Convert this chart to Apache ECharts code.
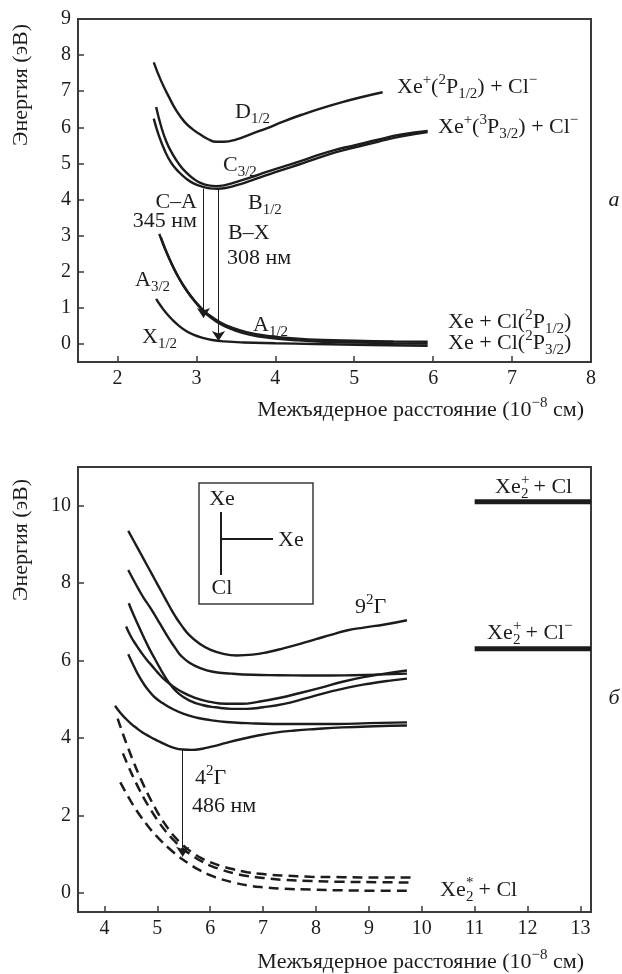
<!DOCTYPE html>
<html>
<head>
<meta charset="utf-8">
<script src="https://cdn.jsdelivr.net/npm/echarts@6/dist/echarts.min.js"></script>
<style>html,body{margin:0;padding:0;background:#fff}#main{width:622px;height:974px}</style>
</head>
<body>
<div id="main"></div>
<script>
// ---- панель а: XeCl ----
var topXTicks = [2, 3, 4, 5, 6, 7, 8];
var topYTicks = [0, 1, 2, 3, 4, 5, 6, 7, 8, 9];

var curveD = [[2.46,7.8],[2.55,7.3],[2.65,6.85],[2.75,6.45],[2.85,6.15],[2.95,5.95],[3.05,5.8],[3.15,5.67],[3.25,5.6],[3.35,5.6],[3.5,5.66],[3.7,5.82],[3.9,5.98],[4.1,6.16],[4.35,6.36],[4.6,6.54],[4.85,6.7],[5.1,6.84],[5.36,6.97]];
var curveC = [[2.49,6.56],[2.55,6.05],[2.62,5.6],[2.7,5.25],[2.78,4.98],[2.87,4.75],[2.96,4.58],[3.05,4.46],[3.15,4.39],[3.25,4.37],[3.35,4.39],[3.5,4.48],[3.7,4.62],[3.9,4.77],[4.1,4.91],[4.3,5.05],[4.5,5.2],[4.75,5.37],[5.0,5.5],[5.3,5.66],[5.6,5.8],[5.93,5.9]];
var curveB = [[2.46,6.24],[2.52,5.8],[2.6,5.35],[2.68,5.02],[2.77,4.78],[2.87,4.58],[2.97,4.44],[3.07,4.36],[3.17,4.31],[3.27,4.3],[3.37,4.32],[3.5,4.39],[3.7,4.53],[3.9,4.68],[4.1,4.83],[4.3,4.97],[4.5,5.12],[4.75,5.3],[5.0,5.44],[5.3,5.6],[5.6,5.75],[5.93,5.87]];
var curveA3 = [[2.53,3.05],[2.6,2.65],[2.68,2.25],[2.76,1.9],[2.85,1.57],[2.95,1.27],[3.05,1.02],[3.15,0.82],[3.3,0.6],[3.45,0.45],[3.65,0.32],[3.9,0.22],[4.2,0.16],[4.6,0.11],[5.0,0.09],[5.5,0.07],[5.93,0.06]];
var curveA1 = [[2.55,2.95],[2.62,2.55],[2.7,2.16],[2.78,1.82],[2.87,1.5],[2.97,1.2],[3.07,0.95],[3.17,0.75],[3.32,0.53],[3.47,0.39],[3.67,0.26],[3.92,0.17],[4.22,0.11],[4.6,0.06],[5.0,0.04],[5.5,0.02],[5.93,0.01]];
var curveX = [[2.49,1.25],[2.55,1.05],[2.62,0.85],[2.7,0.66],[2.78,0.5],[2.87,0.36],[2.97,0.25],[3.08,0.17],[3.2,0.11],[3.35,0.07],[3.6,0.04],[4.0,0.02],[4.5,0.0],[5.2,-0.03],[5.93,-0.05]];
var arrowCA = [[3.09,4.3],[3.09,0.72]];
var arrowBX = [[3.28,4.3],[3.28,0.08]];

// ---- панель б: Xe2Cl ----
var botXTicks = [4, 5, 6, 7, 8, 9, 10, 11, 12, 13];
var botYTicks = [0, 2, 4, 6, 8, 10];

var curve9G = [[4.45,9.35],[4.55,9.1],[4.65,8.85],[4.75,8.6],[4.85,8.35],[4.95,8.1],[5.05,7.85],[5.15,7.6],[5.25,7.35],[5.35,7.12],[5.45,6.92],[5.6,6.66],[5.8,6.43],[6.0,6.28],[6.25,6.17],[6.5,6.13],[6.8,6.15],[7.1,6.22],[7.4,6.32],[7.7,6.43],[8.0,6.55],[8.3,6.67],[8.6,6.78],[8.9,6.85],[9.3,6.93],[9.72,7.04]];
var curve2 = [[4.45,8.34],[4.55,8.08],[4.65,7.83],[4.75,7.6],[4.85,7.4],[4.95,7.18],[5.05,6.95],[5.15,6.72],[5.25,6.5],[5.35,6.3],[5.45,6.12],[5.6,5.95],[5.8,5.81],[6.05,5.71],[6.4,5.66],[6.8,5.63],[7.3,5.62],[8.0,5.61],[8.7,5.62],[9.3,5.64],[9.72,5.66]];
var curve3 = [[4.46,7.48],[4.55,7.18],[4.65,6.88],[4.75,6.58],[4.85,6.3],[4.95,6.05],[5.05,5.8],[5.15,5.57],[5.25,5.37],[5.4,5.15],[5.6,4.97],[5.85,4.85],[6.1,4.79],[6.4,4.75],[6.7,4.75],[7.0,4.79],[7.4,4.88],[7.8,5.02],[8.2,5.17],[8.6,5.3],[9.0,5.4],[9.4,5.48],[9.72,5.53]];
var curve4 = [[4.41,6.88],[4.5,6.62],[4.6,6.4],[4.7,6.2],[4.8,6.02],[4.9,5.86],[5.0,5.7],[5.1,5.55],[5.25,5.38],[5.45,5.2],[5.7,5.04],[6.0,4.93],[6.3,4.88],[6.6,4.88],[6.9,4.93],[7.3,5.03],[7.7,5.16],[8.1,5.3],[8.5,5.45],[8.9,5.57],[9.3,5.66],[9.72,5.74]];
var curve5 = [[4.45,6.16],[4.55,5.87],[4.65,5.6],[4.75,5.38],[4.85,5.2],[4.95,5.05],[5.1,4.9],[5.3,4.74],[5.5,4.62],[5.75,4.52],[6.0,4.46],[6.3,4.41],[6.7,4.38],[7.2,4.36],[7.8,4.36],[8.4,4.36],[9.0,4.38],[9.72,4.4]];
var curve4G = [[4.2,4.83],[4.3,4.65],[4.4,4.5],[4.5,4.37],[4.6,4.26],[4.72,4.14],[4.86,4.03],[5.0,3.93],[5.15,3.83],[5.3,3.75],[5.48,3.7],[5.65,3.69],[5.85,3.72],[6.05,3.78],[6.3,3.87],[6.6,3.97],[6.9,4.06],[7.2,4.13],[7.6,4.19],[8.0,4.23],[8.5,4.27],[9.1,4.3],[9.72,4.32]];
var dash1 = [[4.25,4.5],[4.35,4.1],[4.45,3.73],[4.55,3.38],[4.65,3.05],[4.75,2.75],[4.85,2.47],[4.95,2.21],[5.05,1.97],[5.15,1.76],[5.25,1.57],[5.35,1.41],[5.45,1.27],[5.55,1.15],[5.7,1.0],[5.85,0.88],[6.0,0.79],[6.2,0.69],[6.45,0.6],[6.7,0.53],[7.0,0.48],[7.4,0.44],[7.9,0.41],[8.5,0.4],[9.2,0.39],[9.8,0.39]];
var dash2 = [[4.35,3.6],[4.45,3.27],[4.55,2.97],[4.65,2.69],[4.75,2.43],[4.85,2.2],[4.95,1.98],[5.05,1.78],[5.15,1.6],[5.25,1.44],[5.35,1.3],[5.45,1.17],[5.55,1.06],[5.7,0.92],[5.85,0.8],[6.0,0.7],[6.2,0.6],[6.45,0.5],[6.7,0.43],[7.0,0.38],[7.4,0.33],[7.9,0.3],[8.5,0.28],[9.2,0.27],[9.8,0.26]];
var dash3 = [[4.3,2.85],[4.4,2.6],[4.5,2.36],[4.6,2.14],[4.7,1.94],[4.8,1.76],[4.9,1.59],[5.0,1.44],[5.1,1.3],[5.2,1.17],[5.3,1.05],[5.4,0.94],[5.5,0.84],[5.65,0.7],[5.8,0.58],[6.0,0.45],[6.2,0.35],[6.45,0.26],[6.7,0.19],[7.0,0.14],[7.4,0.1],[7.9,0.08],[8.5,0.06],[9.2,0.05],[9.8,0.05]];
var arrow486 = [[5.48,3.69],[5.48,0.93]];
var levelCl = [[11,10.1],[13.2,10.1]];
var levelClMinus = [[11,6.3],[13.2,6.3]];

var FONT = '"Liberation Serif", "DejaVu Serif", serif';
var INK = '#1c1c1c';
var AXC = '#3a3a3a';

var RICH = {
  b: {fontSize: 15, fontFamily: FONT, lineHeight: 15, verticalAlign: 'bottom', fill: INK},
  p: {fontSize: 15, fontFamily: FONT, lineHeight: 15, verticalAlign: 'top', fill: INK}
};

function lab(x, y, text, align, extra) {
  var st = {text: text, rich: RICH, font: '22px ' + FONT, lineHeight: 29, fill: INK,
            align: align || 'left', verticalAlign: 'middle'};
  if (extra) Object.assign(st, extra);
  return {type: 'text', x: x, y: y, silent: true, style: st};
}

// Xe с двухэтажным индексом (Xe₂⁺, Xe₂*)
function xe2(x, y, up, rest) {
  var small = {font: '15px ' + FONT};
  return [
    lab(x, y, 'Xe'),
    lab(x + 26, y - 7, up, 'left', small),
    lab(x + 26, y + 7, '2', 'left', small),
    lab(x + 33, y, rest)
  ];
}

function curve(data, g, dashed) {
  return {
    type: 'line', xAxisIndex: g, yAxisIndex: g, data: data,
    showSymbol: false, smooth: true, silent: true,
    lineStyle: {color: INK, width: dashed ? 2.5 : 2.4, type: dashed ? [10, 6] : 'solid'}
  };
}

function arrow(seg, g) {
  return {
    type: 'line', xAxisIndex: g, yAxisIndex: g, data: [], silent: true,
    markLine: {
      silent: true, symbol: ['none', 'arrow'], symbolSize: 10,
      label: {show: false},
      lineStyle: {color: INK, width: 1, type: 'solid'},
      data: [[{coord: seg[0]}, {coord: seg[1]}]]
    }
  };
}

function level(data) {
  return {type: 'line', xAxisIndex: 1, yAxisIndex: 1, data: data, showSymbol: false, silent: true,
          lineStyle: {color: INK, width: 5, cap: 'butt'}};
}

function axis(g, min, max, ticks) {
  return {
    gridIndex: g, type: 'value', min: min, max: max,
    axisLine: {show: true, onZero: false, lineStyle: {color: AXC, width: 2}},
    splitLine: {show: false},
    axisTick: {show: true, inside: true, length: 6, lineStyle: {color: AXC, width: 1.5}, customValues: ticks},
    axisLabel: {customValues: ticks, margin: 7, color: INK, fontFamily: FONT, fontSize: 20}
  };
}

var myChart = echarts.init(document.getElementById('main'));

var yTitleTop = lab(21, 85, 'Энергия (эВ)', 'center');
var yTitleBot = lab(21, 540, 'Энергия (эВ)', 'center');
yTitleTop.rotation = Math.PI / 2;
yTitleBot.rotation = Math.PI / 2;

var option = {
  animation: false,
  backgroundColor: '#fff',
  grid: [
    {left: 78, top: 19, width: 513, height: 343, show: true, borderColor: AXC, borderWidth: 2},
    {left: 78, top: 467, width: 513, height: 445, show: true, borderColor: AXC, borderWidth: 2}
  ],
  xAxis: [axis(0, 1.5, 8, topXTicks), axis(1, 3.5, 13.2, botXTicks)],
  yAxis: [axis(0, -0.5, 9, topYTicks), axis(1, -0.5, 11, botYTicks)],
  series: [
    curve(curveD, 0), curve(curveC, 0), curve(curveB, 0),
    curve(curveA3, 0), curve(curveA1, 0), curve(curveX, 0),
    arrow(arrowCA, 0), arrow(arrowBX, 0),
    curve(curve9G, 1), curve(curve2, 1), curve(curve3, 1), curve(curve4, 1),
    curve(curve5, 1), curve(curve4G, 1),
    curve(dash1, 1, true), curve(dash2, 1, true), curve(dash3, 1, true),
    arrow(arrow486, 1),
    level(levelCl), level(levelClMinus)
  ],
  graphic: [
    // подписи осей
    yTitleTop,
    lab(584, 410, 'Межъядерное расстояние (10{p|−8} см)', 'right'),
    yTitleBot,
    lab(584, 962, 'Межъядерное расстояние (10{p|−8} см)', 'right'),
    // панель а
    lab(235, 112, 'D{b|1/2}'),
    lab(223, 165, 'C{b|3/2}'),
    lab(248, 203, 'B{b|1/2}'),
    lab(197, 202, 'C–A', 'right'),
    lab(197, 221, '345 нм', 'right'),
    lab(228, 233, 'B–X'),
    lab(227, 258, '308 нм'),
    lab(135, 280, 'A{b|3/2}'),
    lab(253, 325, 'A{b|1/2}'),
    lab(142, 337, 'X{b|1/2}'),
    lab(397, 87, 'Xe{p|+}({p|2}P{b|1/2}) + Cl{p|−}'),
    lab(438, 127, 'Xe{p|+}({p|3}P{b|3/2}) + Cl{p|−}'),
    lab(448, 322, 'Xe + Cl({p|2}P{b|1/2})'),
    lab(448, 343, 'Xe + Cl({p|2}P{b|3/2})'),
    lab(614, 200, 'а', 'center', {font: 'italic 22px ' + FONT}),
    // панель б: вставка
    {type: 'rect', silent: true, shape: {x: 199, y: 483, width: 114, height: 121},
     style: {fill: 'none', stroke: AXC, lineWidth: 1.5}},
    {type: 'line', silent: true, shape: {x1: 221, y1: 512, x2: 221, y2: 575}, style: {stroke: INK, lineWidth: 2}},
    {type: 'line', silent: true, shape: {x1: 221, y1: 539, x2: 273, y2: 539}, style: {stroke: INK, lineWidth: 2}},
    lab(222, 499, 'Xe', 'center'),
    lab(278, 540, 'Xe'),
    lab(222, 588, 'Cl', 'center'),
    lab(355, 607, '9{p|2}Γ'),
    lab(195, 778, '4{p|2}Γ'),
    lab(192, 806, '486 нм'),
    lab(614, 698, 'б', 'center', {font: 'italic 22px ' + FONT})
  ].concat(
    xe2(495, 487, '+', ' + Cl'),
    xe2(487, 633, '+', ' + Cl{p|−}'),
    xe2(440, 890, '*', ' + Cl')
  )
};

myChart.setOption(option);
</script>
</body>
</html>
